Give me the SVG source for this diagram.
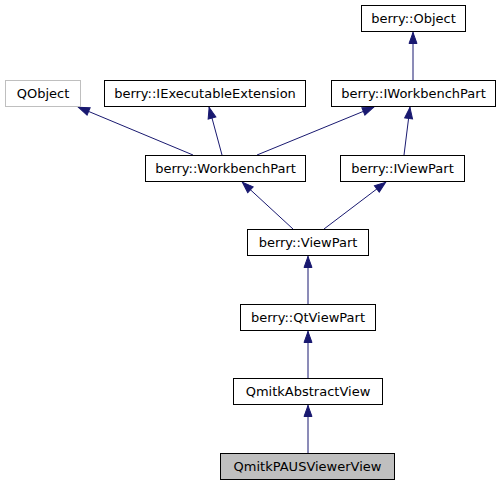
<svg xmlns="http://www.w3.org/2000/svg" width="501" height="485" viewBox="0 0 501 485">
<defs>
<style>
.n rect{fill:#fff;stroke:#000;stroke-width:1}
.n text{font-family:"DejaVu Sans",sans-serif;font-size:13px;text-anchor:middle;fill:#000}
#qobject rect{stroke:#bfbfbf}
#paus rect{fill:#bfbfbf}
.e line{stroke:#191970;stroke-width:1;fill:none;marker-end:url(#ah)}
</style>
<marker id="ah" markerUnits="userSpaceOnUse" viewBox="0 0 12 9" refX="12" refY="4.5" markerWidth="12" markerHeight="9" orient="auto" overflow="visible">
<path d="M0.5,0.5 L11.5,4.5 L0.5,8.5 z" fill="#191970" stroke="#191970" stroke-width="1"/>
</marker>
</defs>
<rect width="501" height="485" fill="#fff"/>
<g class="e">
<line x1="413" y1="81" x2="413" y2="32"/>
<line x1="193" y1="155" x2="78" y2="107"/>
<line x1="222" y1="155" x2="209" y2="107"/>
<line x1="257" y1="155" x2="374" y2="107"/>
<line x1="404" y1="155" x2="410" y2="107"/>
<line x1="293" y1="229" x2="242" y2="182"/>
<line x1="324" y1="229" x2="386" y2="182"/>
<line x1="308" y1="304" x2="308" y2="256"/>
<line x1="308" y1="379" x2="308" y2="331"/>
<line x1="308" y1="454" x2="308" y2="405"/>
</g>
<g class="n" id="object"><rect x="361.5" y="5.5" width="104" height="26"/><text x="413.5" y="22.5">berry::Object</text></g>
<g class="n" id="qobject"><rect x="5.5" y="80.5" width="75" height="26"/><text x="43" y="97.5">QObject</text></g>
<g class="n" id="iexec"><rect x="104.5" y="80.5" width="201" height="26"/><text x="205" y="97.5">berry::IExecutableExtension</text></g>
<g class="n" id="iwbpart"><rect x="331.5" y="80.5" width="164" height="26"/><text x="413.5" y="97.5">berry::IWorkbenchPart</text></g>
<g class="n" id="wbpart"><rect x="145.5" y="155.5" width="160" height="26"/><text x="225.5" y="172.5">berry::WorkbenchPart</text></g>
<g class="n" id="iviewpart"><rect x="340.5" y="155.5" width="124" height="26"/><text x="402.5" y="172.5">berry::IViewPart</text></g>
<g class="n" id="viewpart"><rect x="247.5" y="229.5" width="121" height="26"/><text x="308" y="246.5">berry::ViewPart</text></g>
<g class="n" id="qtviewpart"><rect x="240.5" y="304.5" width="135" height="26"/><text x="308" y="321.5">berry::QtViewPart</text></g>
<g class="n" id="abstractview"><rect x="233.5" y="378.5" width="149" height="26"/><text x="308" y="395.5">QmitkAbstractView</text></g>
<g class="n" id="paus"><rect x="220.5" y="453.5" width="174" height="26"/><text x="307.5" y="470.5">QmitkPAUSViewerView</text></g>
</svg>
